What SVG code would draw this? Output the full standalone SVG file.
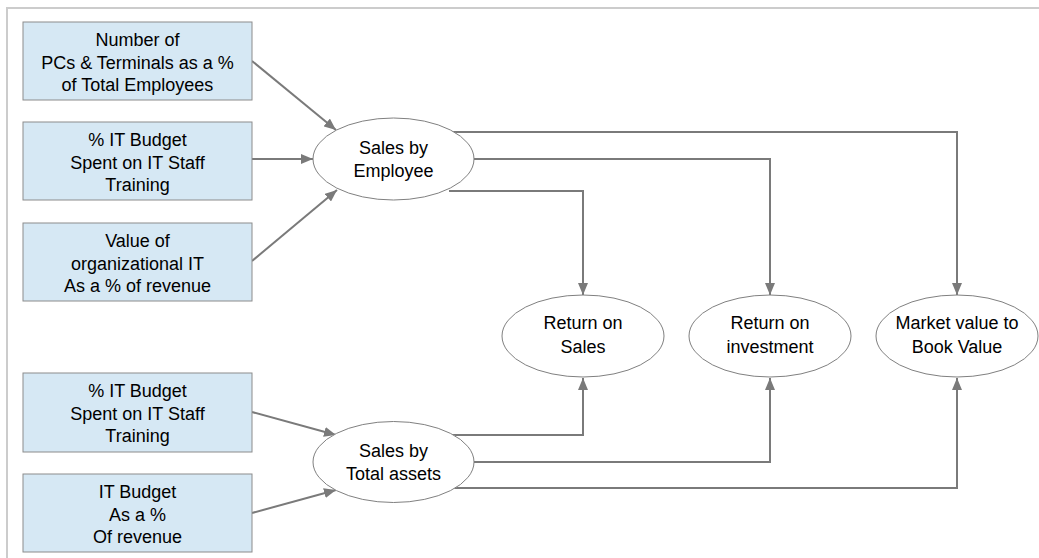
<svg xmlns="http://www.w3.org/2000/svg" width="1039" height="558" viewBox="0 0 1039 558">
  <defs>
    <marker id="arrow" viewBox="0 0 12 10" refX="12" refY="5" markerWidth="12" markerHeight="10" markerUnits="userSpaceOnUse" orient="auto">
      <path d="M0,0 L12,5 L0,10 Z" fill="#7a7a7a"/>
    </marker>
    <style>
      .box { fill: #d6e8f4; stroke: #8c8c8c; stroke-width: 1; }
      .oval { fill: #ffffff; stroke: #808080; stroke-width: 1; }
      .lbl { font-family: "Liberation Sans", Arial, sans-serif; font-size: 18px; fill: #000; text-anchor: middle; }
      .edge { fill: none; stroke: #7a7a7a; stroke-width: 2; marker-end: url(#arrow); }
      .frame { fill: none; stroke: #cccccc; stroke-width: 2; }
    </style>
  </defs>

  <rect width="1039" height="558" fill="#ffffff"/>
  <!-- frame -->
  <path class="frame" d="M7,558 L7,8 L1039,8"/>

  <!-- connectors -->
  <g id="connectors">
    <line class="edge" x1="252" y1="61" x2="336" y2="130"/>
    <line class="edge" x1="252" y1="159" x2="313" y2="159"/>
    <line class="edge" x1="252" y1="261" x2="337" y2="190"/>
    <line class="edge" x1="252" y1="412" x2="336" y2="435"/>
    <line class="edge" x1="252" y1="513" x2="336" y2="490"/>
    <polyline class="edge" points="452,132 957,132 957,295"/>
    <polyline class="edge" points="473,159 770,159 770,295"/>
    <polyline class="edge" points="449,191 583,191 583,295"/>
    <polyline class="edge" points="451,435 583,435 583,378"/>
    <polyline class="edge" points="474,462 770,462 770,378"/>
    <polyline class="edge" points="451,488 957,488 957,378"/>
  </g>

  <!-- input boxes -->
  <g id="box-pcs">
    <rect class="box" x="23" y="22" width="229" height="78"/>
    <text class="lbl" x="137.5" y="46">Number of</text>
    <text class="lbl" x="137.5" y="69">PCs &amp; Terminals as a %</text>
    <text class="lbl" x="137.5" y="91">of Total Employees</text>
  </g>
  <g id="box-training-1">
    <rect class="box" x="23" y="122" width="229" height="78"/>
    <text class="lbl" x="137.5" y="146">% IT Budget</text>
    <text class="lbl" x="137.5" y="169">Spent on IT Staff</text>
    <text class="lbl" x="137.5" y="191">Training</text>
  </g>
  <g id="box-org-it">
    <rect class="box" x="23" y="223" width="229" height="78"/>
    <text class="lbl" x="137.5" y="247">Value of</text>
    <text class="lbl" x="137.5" y="270">organizational IT</text>
    <text class="lbl" x="137.5" y="292">As a % of revenue</text>
  </g>
  <g id="box-training-2">
    <rect class="box" x="23" y="373" width="229" height="79"/>
    <text class="lbl" x="137.5" y="397">% IT Budget</text>
    <text class="lbl" x="137.5" y="420">Spent on IT Staff</text>
    <text class="lbl" x="137.5" y="442">Training</text>
  </g>
  <g id="box-budget">
    <rect class="box" x="23" y="474" width="229" height="78"/>
    <text class="lbl" x="137.5" y="498">IT Budget</text>
    <text class="lbl" x="137.5" y="521">As a %</text>
    <text class="lbl" x="137.5" y="543">Of revenue</text>
  </g>

  <!-- intermediate measures -->
  <g id="sales-employee">
    <ellipse class="oval" cx="393.5" cy="159" rx="80.5" ry="41"/>
    <text class="lbl" x="393.5" y="154">Sales by</text>
    <text class="lbl" x="393.5" y="177">Employee</text>
  </g>
  <g id="sales-assets">
    <ellipse class="oval" cx="393.5" cy="462" rx="80.5" ry="40.5"/>
    <text class="lbl" x="393.5" y="457">Sales by</text>
    <text class="lbl" x="393.5" y="480">Total assets</text>
  </g>

  <!-- outcome measures -->
  <g id="return-sales">
    <ellipse class="oval" cx="583" cy="336" rx="81" ry="41"/>
    <text class="lbl" x="583" y="329">Return on</text>
    <text class="lbl" x="583" y="353">Sales</text>
  </g>
  <g id="return-investment">
    <ellipse class="oval" cx="770" cy="336" rx="81" ry="41"/>
    <text class="lbl" x="770" y="329">Return on</text>
    <text class="lbl" x="770" y="353">investment</text>
  </g>
  <g id="market-book">
    <ellipse class="oval" cx="957" cy="336" rx="81" ry="41"/>
    <text class="lbl" x="957" y="329">Market value to</text>
    <text class="lbl" x="957" y="353">Book Value</text>
  </g>
</svg>
